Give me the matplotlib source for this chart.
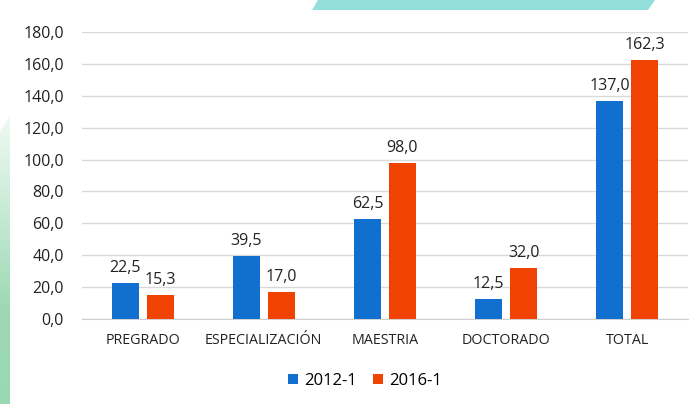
import matplotlib.pyplot as plt
import numpy as np
from matplotlib.patches import Polygon
from matplotlib.colors import LinearSegmentedColormap

categories = ["PREGRADO", "ESPECIALIZACIÓN", "MAESTRIA", "DOCTORADO", "TOTAL"]
series_names = ["2012-1", "2016-1"]
values_2012 = [22.5, 39.5, 62.5, 12.5, 137.0]
values_2016 = [15.3, 17.0, 98.0, 32.0, 162.3]
y_ticks = [0, 20, 40, 60, 80, 100, 120, 140, 160, 180]

blue = "#1170CF"
orange = "#F04200"

plt.rcParams['font.family'] = ['Open Sans', 'DejaVu Sans']

W, H = 695, 404
fig = plt.figure(figsize=(W / 100, H / 100), dpi=100)

# decorative shapes
deco = fig.add_axes([0, 0, 1, 1], zorder=-1)
deco.set_xlim(0, W)
deco.set_ylim(H, 0)
deco.axis('off')
deco.add_patch(Polygon([(312, 10), (318, 0), (655, 0), (648, 10)],
                       closed=True, color="#93E0DB", lw=0))
grad = np.linspace(0, 1, 256).reshape(-1, 1)
cmap = LinearSegmentedColormap.from_list("g", ["#F2FAF5", "#C8EBD6", "#9ED9B6", "#9AD8B3"])
img = deco.imshow(grad, cmap=cmap, extent=[0, 10, H, 112], aspect='auto')
clip = Polygon([(0, 132), (10, 115), (10, H), (0, H)], closed=True,
               transform=deco.transData)
img.set_clip_path(clip)

ax = fig.add_axes([82 / W, (H - 319) / H, (688 - 82) / W, (319 - 32) / H])
x = np.arange(len(categories))
w = 0.223
gap = 0.065
b1 = ax.bar(x - (w + gap) / 2, values_2012, w, color=blue, label=series_names[0], zorder=3)
b2 = ax.bar(x + (w + gap) / 2, values_2016, w, color=orange, label=series_names[1], zorder=3)

for bars in (b1, b2):
    for r in bars:
        ax.annotate(f"{r.get_height():.1f}".replace(".", ","),
                    (r.get_x() + r.get_width() / 2, r.get_height()),
                    xytext=(0, 5), textcoords="offset points",
                    ha="center", va="bottom", fontsize=11.5, color="#222222")

ax.set_xlim(-0.5, len(categories) - 0.5)
ax.set_ylim(0, 180)
ax.set_yticks(y_ticks)
ax.set_yticklabels([f"{t:.1f}".replace(".", ",") for t in y_ticks])
ax.set_xticks(x)
ax.set_xticklabels(categories)
ax.tick_params(axis='both', length=0, colors="#222222")
ax.tick_params(axis='x', pad=10, labelsize=10.3)
ax.tick_params(axis='y', pad=13, labelsize=11.5)
ax.grid(axis='y', color="#D9D9D9", lw=1, zorder=0)
for s in ("top", "right", "left"):
    ax.spines[s].set_visible(False)
ax.spines["bottom"].set_color("#D0D0D0")
ax.set_facecolor("none")

fig.legend(handles=[b1, b2], labels=series_names, loc="center",
           bbox_to_anchor=(365 / W, 1 - 381 / H), ncol=2, frameon=False,
           fontsize=12, handlelength=0.6, handleheight=0.6, columnspacing=1.0,
           handletextpad=0.35)

fig.savefig("out.png", dpi=100)
